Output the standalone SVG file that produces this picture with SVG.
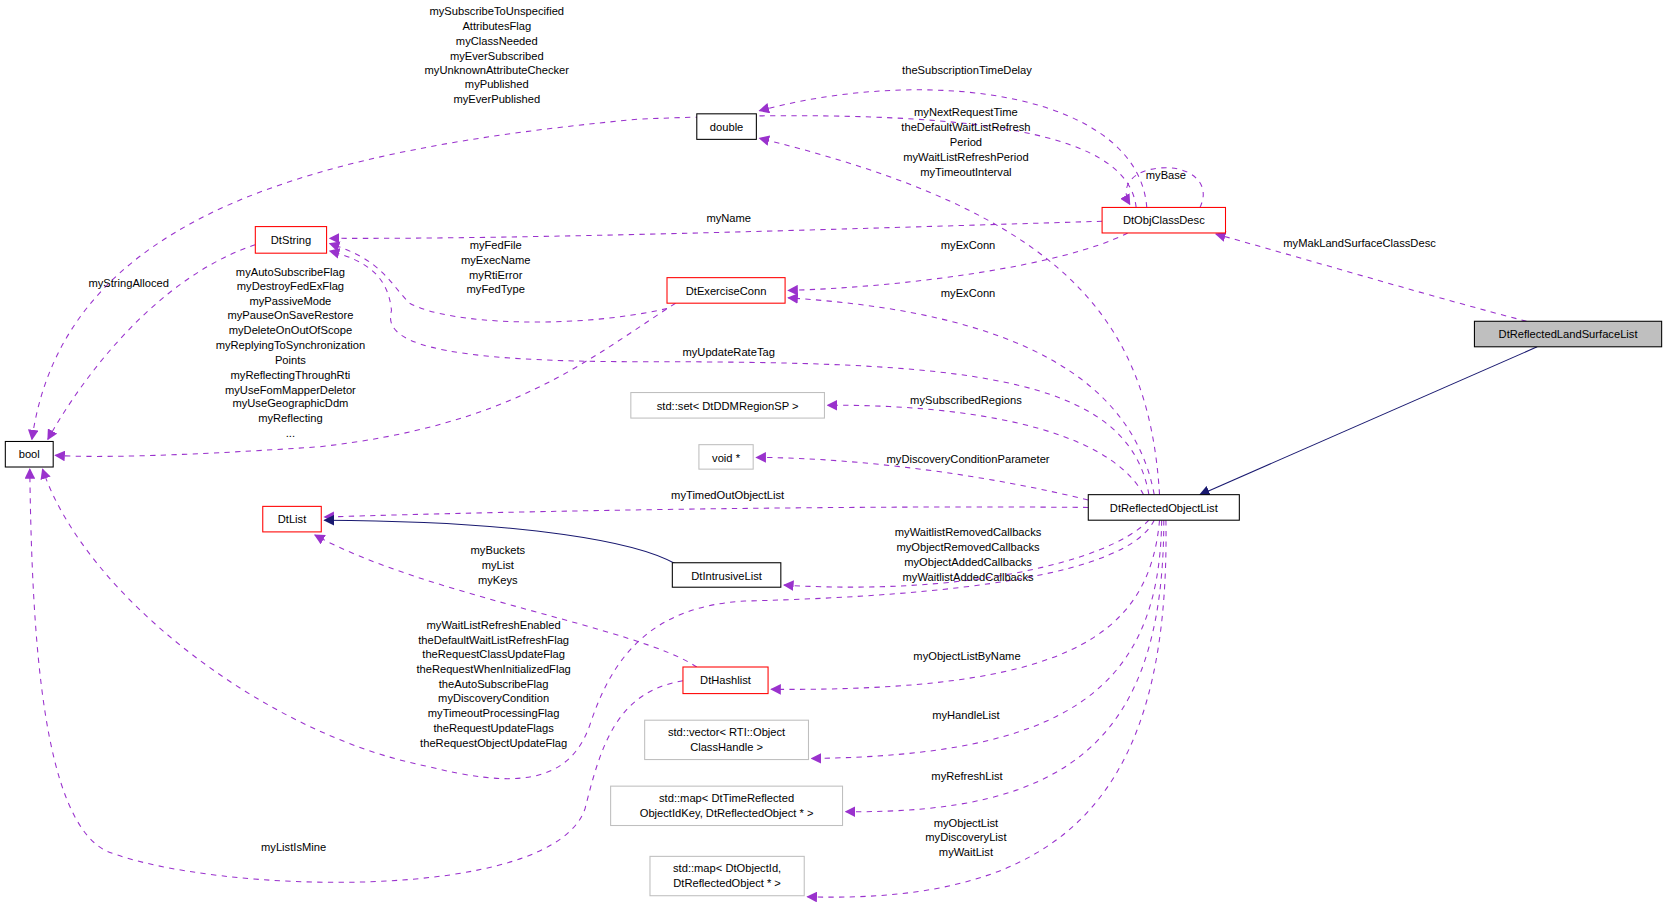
<svg xmlns="http://www.w3.org/2000/svg" width="1667" height="911" viewBox="0 0 1667 911">
<style>
text{font-family:"Liberation Sans",Arial,sans-serif;font-size:10.5px;fill:#000;text-anchor:middle}
.n rect{fill:#fff;stroke:#000;stroke-width:1}
.r rect{stroke:#f00}
.g rect{stroke:#bfbfbf}
.s rect{fill:#bfbfbf}
.e path{fill:none;stroke:#9a32cd;stroke-width:1;stroke-dasharray:5,5;marker-end:url(#ap)}
.e path.i{stroke:#191970;stroke-dasharray:none;marker-end:url(#an)}
</style>
<defs>
<marker id="ap" viewBox="0 0 10 10" refX="9" refY="5" markerWidth="10" markerHeight="10" markerUnits="userSpaceOnUse" orient="auto"><path d="M0,0 L10,5 L0,10z" fill="#9a32cd"/></marker>
<marker id="an" viewBox="0 0 10 10" refX="9" refY="5" markerWidth="10" markerHeight="10" markerUnits="userSpaceOnUse" orient="auto"><path d="M0,0 L10,5 L0,10z" fill="#191970"/></marker>
</defs>
<rect width="1667" height="911" fill="#fff"/>
<g transform="scale(1.0638)">
<g id="edges" class="e">
<path class="i" d="M1445,326 L1128,465"/>
<path d="M1435,302 C1350,280 1250,250 1143,220"/>
<path d="M1068,195 C1060,120 900,100 600,112 C300,140 60,200 30,413"/>
<path d="M1078,195 C1070,90 880,60 714,104"/>
<path d="M1128,195 C1140,170 1115,155 1090,158 C1065,160 1052,175 1062,192"/>
<path d="M1036,208 C800,215 500,225 310,224"/>
<path d="M1060,219 C1000,250 850,270 741,273"/>
<path d="M1090,465 C1080,300 1000,200 714,130"/>
<path d="M1085,465 C1060,330 900,290 741,280"/>
<path d="M1080,465 C1060,350 900,340 600,340 C400,340 360,320 368,292 C365,260 345,245 310,236"/>
<path d="M627,290 C540,310 420,305 385,285 C365,265 360,245 310,229"/>
<path d="M240,230 C150,260 80,350 45,413"/>
<path d="M635,285 C550,340 480,400 300,420 C150,430 80,430 52,428"/>
<path d="M1075,465 C1040,400 900,380 778,381"/>
<path d="M1023,470 C900,440 780,430 711,430"/>
<path d="M1023,477 C800,475 500,480 305,486"/>
<path class="i" d="M635,530 C600,510 500,490 305,489"/>
<path d="M1080,489 C1040,530 900,560 737,550"/>
<path d="M655,627 C600,590 400,560 296,503"/>
<path d="M1085,489 C1060,540 900,560 700,565 C610,570 575,620 555,680 C535,740 480,740 400,720 C250,690 80,560 40,441"/>
<path d="M642,640 C580,650 565,700 550,760 C520,850 200,840 100,800 C40,770 30,600 28,441"/>
<path d="M1090,489 C1080,600 1000,650 725,648"/>
<path d="M1092,489 C1090,650 1000,710 763,713"/>
<path d="M1094,489 C1094,700 1000,765 795,763"/>
<path d="M1096,489 C1100,750 1000,850 759,843"/>
</g>
<g id="labels">
<text x="467" y="14">mySubscribeToUnspecified</text>
<text x="467" y="28">AttributesFlag</text>
<text x="467" y="42">myClassNeeded</text>
<text x="467" y="56">myEverSubscribed</text>
<text x="467" y="70">myUnknownAttributeChecker</text>
<text x="467" y="83">myPublished</text>
<text x="467" y="97">myEverPublished</text>
<text x="909" y="70">theSubscriptionTimeDelay</text>
<text x="908" y="109">myNextRequestTime</text>
<text x="908" y="123">theDefaultWaitListRefresh</text>
<text x="908" y="137">Period</text>
<text x="908" y="151">myWaitListRefreshPeriod</text>
<text x="908" y="165">myTimeoutInterval</text>
<text x="1096" y="168">myBase</text>
<text x="685" y="209">myName</text>
<text x="910" y="234">myExConn</text>
<text x="1278" y="232">myMakLandSurfaceClassDesc</text>
<text x="466" y="234">myFedFile</text>
<text x="466" y="248">myExecName</text>
<text x="466" y="262">myRtiError</text>
<text x="466" y="275">myFedType</text>
<text x="121" y="270">myStringAlloced</text>
<text x="273" y="259">myAutoSubscribeFlag</text>
<text x="273" y="273">myDestroyFedExFlag</text>
<text x="273" y="287">myPassiveMode</text>
<text x="273" y="300">myPauseOnSaveRestore</text>
<text x="273" y="314">myDeleteOnOutOfScope</text>
<text x="273" y="328">myReplyingToSynchronization</text>
<text x="273" y="342">Points</text>
<text x="273" y="356">myReflectingThroughRti</text>
<text x="273" y="370">myUseFomMapperDeletor</text>
<text x="273" y="383">myUseGeographicDdm</text>
<text x="273" y="397">myReflecting</text>
<text x="273" y="411">...</text>
<text x="910" y="279">myExConn</text>
<text x="685" y="335">myUpdateRateTag</text>
<text x="908" y="380">mySubscribedRegions</text>
<text x="910" y="435">myDiscoveryConditionParameter</text>
<text x="684" y="469">myTimedOutObjectList</text>
<text x="910" y="504">myWaitlistRemovedCallbacks</text>
<text x="910" y="518">myObjectRemovedCallbacks</text>
<text x="910" y="532">myObjectAddedCallbacks</text>
<text x="910" y="546">myWaitlistAddedCallbacks</text>
<text x="468" y="521">myBuckets</text>
<text x="468" y="535">myList</text>
<text x="468" y="549">myKeys</text>
<text x="464" y="591">myWaitListRefreshEnabled</text>
<text x="464" y="605">theDefaultWaitListRefreshFlag</text>
<text x="464" y="619">theRequestClassUpdateFlag</text>
<text x="464" y="633">theRequestWhenInitializedFlag</text>
<text x="464" y="647">theAutoSubscribeFlag</text>
<text x="464" y="660">myDiscoveryCondition</text>
<text x="464" y="674">myTimeoutProcessingFlag</text>
<text x="464" y="688">theRequestUpdateFlags</text>
<text x="464" y="702">theRequestObjectUpdateFlag</text>
<text x="909" y="620">myObjectListByName</text>
<text x="908" y="676">myHandleList</text>
<text x="909" y="733">myRefreshList</text>
<text x="908" y="777">myObjectList</text>
<text x="908" y="791">myDiscoveryList</text>
<text x="908" y="805">myWaitList</text>
<text x="276" y="800">myListIsMine</text>
</g>
<g id="bool" class="n"><rect x="5" y="415" width="45" height="24"/><text x="27.5" y="431">bool</text></g>
<g id="DtString" class="n r"><rect x="240" y="213" width="67" height="25"/><text x="273.5" y="229">DtString</text></g>
<g id="double" class="n"><rect x="655" y="107" width="56" height="24"/><text x="683" y="123">double</text></g>
<g id="DtObjClassDesc" class="n r"><rect x="1036" y="195" width="116" height="24"/><text x="1094" y="211">DtObjClassDesc</text></g>
<g id="DtExerciseConn" class="n r"><rect x="627" y="261" width="111" height="24"/><text x="682.5" y="277">DtExerciseConn</text></g>
<g id="stdset" class="n g"><rect x="593" y="369" width="182" height="24"/><text x="684" y="385">std::set&lt; DtDDMRegionSP &gt;</text></g>
<g id="void" class="n g"><rect x="657" y="418" width="51" height="23"/><text x="682.5" y="434">void *</text></g>
<g id="DtList" class="n r"><rect x="247" y="476" width="55" height="24"/><text x="274.5" y="492">DtList</text></g>
<g id="DtIntrusiveList" class="n"><rect x="632" y="529" width="102" height="23"/><text x="683" y="545">DtIntrusiveList</text></g>
<g id="DtHashlist" class="n r"><rect x="642" y="627" width="80" height="25"/><text x="682" y="643">DtHashlist</text></g>
<g id="stdvector" class="n g"><rect x="606" y="677" width="154" height="37"/><text x="683" y="692">std::vector&lt; RTI::Object</text><text x="683" y="706">ClassHandle &gt;</text></g>
<g id="stdmap1" class="n g"><rect x="574" y="739" width="218" height="37"/><text x="683" y="754">std::map&lt; DtTimeReflected</text><text x="683" y="768">ObjectIdKey, DtReflectedObject * &gt;</text></g>
<g id="stdmap2" class="n g"><rect x="611" y="805" width="145" height="37"/><text x="683.5" y="820">std::map&lt; DtObjectId,</text><text x="683.5" y="834">DtReflectedObject * &gt;</text></g>
<g id="DtReflectedObjectList" class="n"><rect x="1023" y="465" width="142" height="24"/><text x="1094" y="481">DtReflectedObjectList</text></g>
<g id="DtReflectedLandSurfaceList" class="n s"><rect x="1386" y="302" width="176" height="24"/><text x="1474" y="318">DtReflectedLandSurfaceList</text></g>
</g>
</svg>
